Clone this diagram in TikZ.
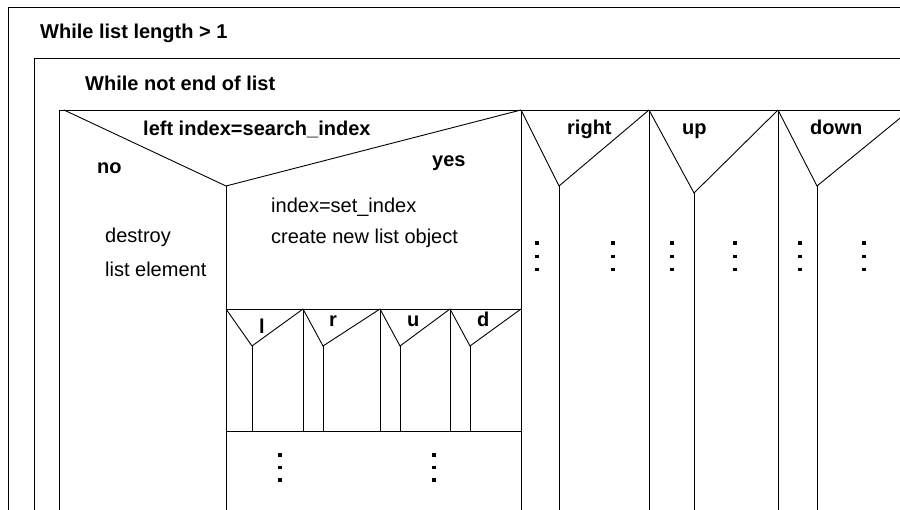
\documentclass[tikz,border=0pt]{standalone}
\usepackage{fontspec}
\setmainfont{Liberation Sans}
\begin{document}
\begin{tikzpicture}[x=1pt,y=-1pt,
  ln/.style={line width=0.9pt,black},
  lbl/.style={anchor=base west,inner sep=0pt,font=\fontsize{20}{24}\selectfont},
  blbl/.style={lbl,font=\fontsize{20}{24}\selectfont\bfseries},
  dotm/.style={fill=black}]
\useasboundingbox (0,0) rectangle (900,510);
\clip (0,0) rectangle (900,510);
% frames
\draw[ln] (8,510) -- (8,7) -- (905,7);
\draw[ln] (34,510) -- (34,58) -- (905,58);
\draw[ln] (59,510) -- (59,110) -- (905,110);
% main decision
\coordinate (apex) at (226,186);
\draw[ln] (64,110) -- (apex) -- (521,110);
\draw[ln] (apex) -- (226,510);
% case columns
\draw[ln] (521,110) -- (521,510);
\draw[ln] (649,110) -- (649,510);
\draw[ln] (778,110) -- (778,510);
\draw[ln] (521,110) -- (559,186) -- (649,110);
\draw[ln] (559,186) -- (559,510);
\draw[ln] (649,110) -- (694,193) -- (778,110);
\draw[ln] (694,193) -- (694,510);
\draw[ln] (778,110) -- (817,186) -- (910,110);
\draw[ln] (817,186) -- (817,510);
% yes-branch inner case
\draw[ln] (226,309) -- (521,309);
\draw[ln] (226,431) -- (521,431);
\foreach \x in {303,380,450} \draw[ln] (\x,309) -- (\x,431);
\draw[ln] (226,309) -- (252,346) -- (303,309);
\draw[ln] (303,309) -- (323,346) -- (380,309);
\draw[ln] (380,309) -- (400,346) -- (450,309);
\draw[ln] (450,309) -- (470,346) -- (521,309);
\foreach \x in {252,323,400,470} \draw[ln] (\x,346) -- (\x,431);
% texts
\node[blbl] (t1) at (40,39) {While list length > 1};
\node[blbl] (t2) at (85,91) {While not end of list};
\node[blbl] (t3) at (143,136) {left index=search\_index};
\node[blbl] (no) at (97,174) {no};
\node[blbl] (yes) at (432,167) {yes};
\node[lbl] (a1) at (271,213) {index=set\_index};
\node[lbl] (a2) at (271,244) {create new list object};
\node[lbl] (d1) at (105,243) {destroy};
\node[lbl] (d2) at (105,277) {list element};
\node[blbl] (cr) at (567,135) {right};
\node[blbl] (cu) at (682,135) {up};
\node[blbl] (cd) at (810,135) {down};
\node[blbl] (sl) at (259,334) {l};
\node[blbl] (sr) at (329,327) {r};
\node[blbl] (su) at (407,327) {u};
\node[blbl] (sd) at (477,327) {d};
% dots
\foreach \x in {537,613,672,735,800,864}
  \foreach \y in {243,256.5,269.5}
    \fill[dotm] (\x-1.6,\y-1.6) rectangle (\x+1.6,\y+1.6);
\foreach \x in {280,434}
  \foreach \y in {455,467.5,480}
    \fill[dotm] (\x-1.6,\y-1.6) rectangle (\x+1.6,\y+1.6);
\end{tikzpicture}
\end{document}
